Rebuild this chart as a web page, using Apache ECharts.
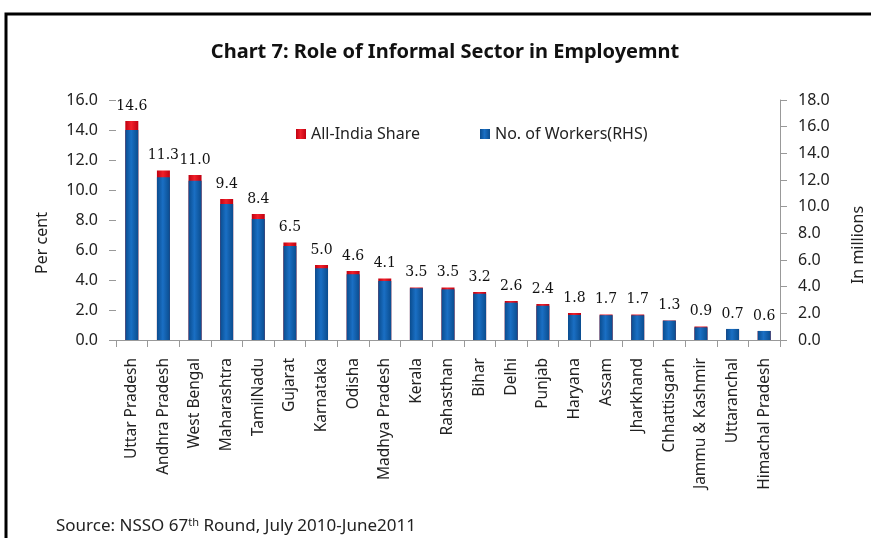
<!DOCTYPE html>
<html>
<head>
<meta charset="utf-8">
<script src="https://cdn.jsdelivr.net/npm/echarts@6/dist/echarts.min.js"></script>
<style>
html,body{margin:0;padding:0;background:#fff;}
#chart{width:871px;height:538px;}
</style>
</head>
<body>
<div id="chart"></div>
<script>
const categories = ["Uttar Pradesh","Andhra Pradesh","West Bengal","Maharashtra","TamilNadu","Gujarat","Karnataka","Odisha","Madhya Pradesh","Kerala","Rahasthan","Bihar","Delhi","Punjab","Haryana","Assam","Jharkhand","Chhattisgarh","Jammu & Kashmir","Uttaranchal","Himachal Pradesh"];
const shareValues = [14.6,11.3,11.0,9.4,8.4,6.5,5.0,4.6,4.1,3.5,3.5,3.2,2.6,2.4,1.8,1.7,1.7,1.3,0.9,0.7,0.6];
const workerValues = [15.75,12.2,11.95,10.2,9.08,7.05,5.38,4.93,4.43,3.88,3.8,3.47,2.8,2.57,1.88,1.86,1.85,1.45,0.95,0.83,0.68];
const leftTicks = {min:0,max:16,interval:2};
const rightTicks = {min:0,max:18,interval:2};

const chart = echarts.init(document.getElementById('chart'));
const G = echarts.graphic;
const blueFill = new G.LinearGradient(0,0,1,0,[{offset:0,color:'#0a4c8e'},{offset:0.45,color:'#1a6fc4'},{offset:1,color:'#0a4c8e'}]);
const redFill = new G.LinearGradient(0,0,1,0,[{offset:0,color:'#c00010'},{offset:0.45,color:'#f0202a'},{offset:1,color:'#c00010'}]);
const sans = 'Noto Sans';
chart.setOption({
  animation:false,
  backgroundColor:'#fff',
  title:{text:'Chart 7: Role of Informal Sector in Employemnt',left:440,textAlign:'center',top:37,
    textStyle:{fontFamily:sans,fontSize:20,fontWeight:'bold',color:'#111'}},
  legend:{top:121,left:291,itemWidth:10,itemHeight:10,itemGap:60,icon:'rect',
    textStyle:{fontFamily:sans,fontSize:16,color:'#222'},
    data:['All-India Share','No. of Workers(RHS)']},
  grid:{left:116,right:91,top:100,bottom:198},
  xAxis:{type:'category',data:categories,
    axisLine:{lineStyle:{color:'#999',width:1}},
    axisTick:{show:true,length:7,lineStyle:{color:'#999'}},
    axisLabel:{rotate:90,margin:18,fontFamily:sans,fontSize:15.5,color:'#222',interval:0}},
  yAxis:[
    {type:'value',min:leftTicks.min,max:leftTicks.max,interval:leftTicks.interval,
     axisLine:{show:false},axisTick:{show:true,length:7,inside:false,lineStyle:{color:'#999'}},
     splitLine:{show:false},
     axisLabel:{margin:18,fontFamily:sans,fontSize:16,color:'#222',formatter:v=>v.toFixed(1)}},
    {type:'value',min:rightTicks.min,max:rightTicks.max,interval:rightTicks.interval,position:'right',
     axisLine:{show:true,lineStyle:{color:'#999'}},axisTick:{show:true,length:7,lineStyle:{color:'#999'}},
     splitLine:{show:false},
     axisLabel:{margin:18,fontFamily:sans,fontSize:16,color:'#222',formatter:v=>v.toFixed(1)}}
  ],
  series:[
    {name:'All-India Share',type:'bar',yAxisIndex:0,data:shareValues,barWidth:13,barGap:'-100%',
     itemStyle:{color:redFill},
     label:{show:true,position:'top',distance:8,fontFamily:'DejaVu Serif',fontSize:14,color:'#111',formatter:p=>p.value.toFixed(1)}},
    {name:'No. of Workers(RHS)',type:'bar',yAxisIndex:1,data:workerValues,barWidth:13,barGap:'-100%',
     itemStyle:{color:blueFill}}
  ],
  graphic:[
    {type:'rect',shape:{x:6,y:14,width:1000,height:1000},style:{fill:'none',stroke:'#000',lineWidth:3},silent:true},
    {type:'text',x:42,y:243,rotation:Math.PI/2,style:{text:'Per cent',fontFamily:sans,fontSize:16,fill:'#222',align:'center',verticalAlign:'middle'}},
    {type:'text',x:858,y:245,rotation:Math.PI/2,style:{text:'In millions',fontFamily:sans,fontSize:16,fill:'#222',align:'center',verticalAlign:'middle'}},
    {type:'text',left:56,top:517,style:{rich:{n:{fontFamily:sans,fontSize:17,fill:'#222'},s:{fontFamily:sans,fontSize:11,fill:'#222',verticalAlign:'top',padding:[0,0,8,0]}},
      text:'{n|Source: NSSO 67}{s|th}{n| Round, July 2010-June2011}'}}
  ]
});
</script>
</body>
</html>
